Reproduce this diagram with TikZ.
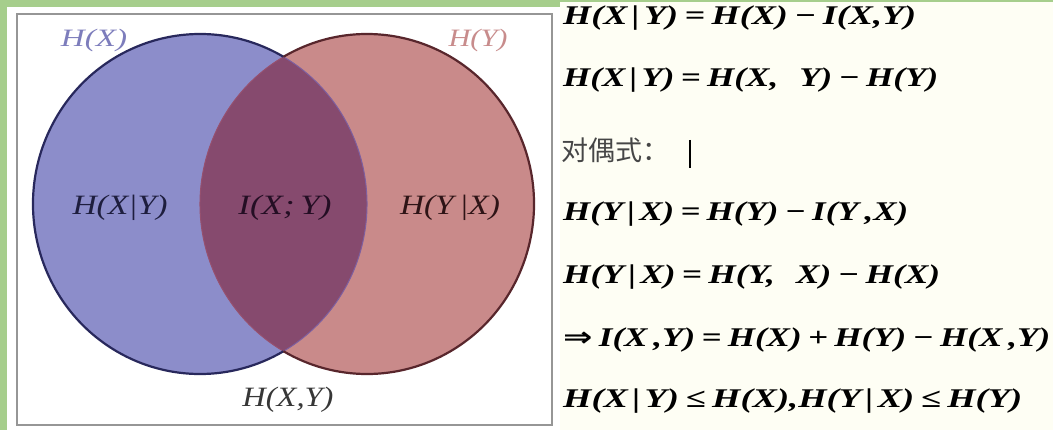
\documentclass[tikz,border=0pt]{standalone}
\usepackage{fontspec}
\usepackage{graphicx}
\setmainfont{Liberation Serif}
\newfontfamily\cjkfont{Noto Sans CJK SC}
\newfontfamily\arrowfont{DejaVu Sans}
\definecolor{framegreen}{RGB}{166,206,140}
\definecolor{cream}{RGB}{254,254,244}
\definecolor{boxgray}{RGB}{150,150,150}
\definecolor{leftfill}{RGB}{140,141,202}
\definecolor{rightfill}{RGB}{201,138,138}
\definecolor{lensfill}{RGB}{134,74,110}
\definecolor{leftline}{RGB}{40,40,92}
\definecolor{rightline}{RGB}{88,38,44}
\definecolor{lenslineL}{RGB}{125,95,160}
\definecolor{lenslineR}{RGB}{150,80,110}
\definecolor{hxcol}{RGB}{125,125,188}
\definecolor{hycol}{RGB}{200,140,140}
\definecolor{hxycol}{RGB}{30,30,62}
\definecolor{ixycol}{RGB}{36,14,36}
\definecolor{hyxcol}{RGB}{46,20,22}
\definecolor{jointcol}{RGB}{55,55,55}
\definecolor{cjkgray}{RGB}{70,70,70}
\tikzset{
  vennlabel/.style={inner sep=0pt, font=\fontsize{28}{30}\selectfont\itshape},
  toplabel/.style={inner sep=0pt, font=\fontsize{25}{28}\selectfont\itshape},
  formula/.style={anchor=west, inner sep=0pt, font=\fontsize{27}{30}\selectfont\bfseries\itshape},
}
\newcommand{\barsp}{\hspace{0.12em}}
\newcommand{\opsp}{\hspace{0.18em}}
\begin{document}
\begin{tikzpicture}[x=1pt,y=1pt]
\useasboundingbox (0,0) rectangle (1053,430);
% panels
\fill[white] (0,0) rectangle (560,430);
\fill[cream] (560,0) rectangle (1053,430);
\fill[framegreen] (0,0) rectangle (7,430);
\fill[framegreen] (0,423) rectangle (560,430);
\fill[framegreen] (560,428) rectangle (1053,430);
\draw[boxgray, line width=2pt] (17,5) rectangle (552,416);
% venn
\fill[leftfill] (200,226) ellipse [x radius=167, y radius=170];
\fill[rightfill] (367,226) ellipse [x radius=167, y radius=170];
\begin{scope}
  \clip (200,226) ellipse [x radius=167, y radius=170];
  \fill[lensfill] (367,226) ellipse [x radius=167, y radius=170];
\end{scope}
\coordinate (itop) at (283.5,373.2);
\coordinate (ibot) at (283.5,78.8);
\draw[lenslineL, line width=1pt] (itop) arc[start angle=60, end angle=-60, x radius=167, y radius=170];
\draw[lenslineR, line width=1pt] (itop) arc[start angle=120, end angle=240, x radius=167, y radius=170];
\draw[leftline, line width=2.2pt] (itop) arc[start angle=60, end angle=300, x radius=167, y radius=170];
\draw[rightline, line width=2.2pt] (itop) arc[start angle=120, end angle=-120, x radius=167, y radius=170];
% venn labels
\node[toplabel, text=hxcol] (hx) at (94,390) {\resizebox{66pt}{\height}{H(X)}};
\node[toplabel, text=hycol] (hy) at (478,390) {\resizebox{59pt}{\height}{H(Y)}};
\node[vennlabel, text=hxycol] (hxy) at (120,222) {\resizebox{95pt}{\height}{H(X|Y)}};
\node[vennlabel, text=ixycol] (ixy) at (285,222) {\resizebox{93pt}{\height}{I(X;\,Y)}};
\node[vennlabel, text=hyxcol] (hyx) at (450,222) {\resizebox{100pt}{\height}{H(Y\,|X)}};
\node[vennlabel, text=jointcol] (joint) at (288,30) {\resizebox{91pt}{\height}{H(X,Y)}};
% formulas
\node[formula] (f1) at (563,412) {\resizebox{353pt}{\height}{H(X\barsp|\barsp Y)\opsp=\opsp H(X)\opsp−\opsp I(X,Y)}};
\node[formula] (f2) at (563,350) {\resizebox{375pt}{\height}{H(X\barsp|\barsp Y)\opsp=\opsp H(X,\hspace{0.6em}Y)\opsp−\opsp H(Y)}};
\node[anchor=west, inner sep=0pt, font=\fontsize{27}{30}\selectfont\cjkfont, text=cjkgray] (dual) at (561,280) {对偶式：};
\coordinate (cursortop) at (690,290);
\coordinate (cursorbot) at (690,262);
\draw[black, line width=1.2pt] (cursortop) -- (cursorbot);
\node[formula] (f3) at (563,216) {\resizebox{345pt}{\height}{H(Y\barsp|\barsp X)\opsp=\opsp H(Y)\opsp−\opsp I(Y\,,X)}};
\node[formula] (f4) at (563,153) {\resizebox{377pt}{\height}{H(Y\barsp|\barsp X)\opsp=\opsp H(Y,\hspace{0.6em}X)\opsp−\opsp H(X)}};
\node[formula] (f5) at (563,90) {\resizebox{487pt}{\height}{{\arrowfont\bfseries\upshape ⇒}\opsp I(X\,,Y)\opsp=\opsp H(X)\opsp+\opsp H(Y)\opsp−\opsp H(X\,,Y)}};
\node[formula] (f6) at (563,29) {\resizebox{459pt}{\height}{H(X\barsp|\barsp Y)\opsp≤\opsp H(X),H(Y\barsp|\barsp X)\opsp≤\opsp H(Y)}};
\end{tikzpicture}
\end{document}
